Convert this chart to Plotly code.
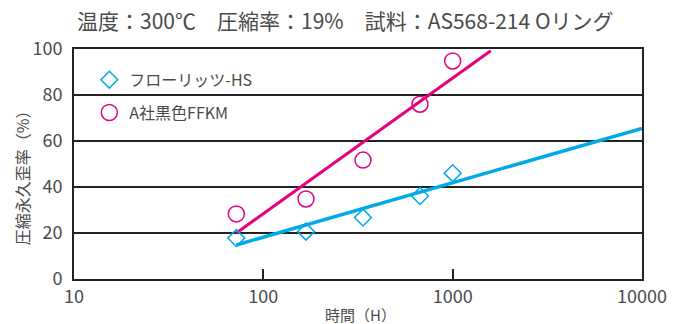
import plotly.graph_objects as go

# data
hours = [72, 168, 336, 672, 1000]
flor_hs = [17.8, 20.6, 26.7, 36.1, 46.0]
ffkm = [28.3, 34.8, 51.7, 76.0, 94.8]
flor_fit_x = [72, 10000]
flor_fit_y = [14.8, 65.5]
ffkm_fit_x = [72, 1590]
ffkm_fit_y = [20.0, 99.2]
x_ticks = [10, 100, 1000, 10000]
x_tick_text = ["10", "100", "1000", "10000"]
y_ticks = [0, 20, 40, 60, 80, 100]
series_names = ["フローリッツ-HS", "A社黒色FFKM"]
x_title = "時間（H）"
y_title = "圧縮永久歪率（%）"

CYAN = "#00a9e8"
MAGENTA = "#e4007f"
TXT = "#4a4a4a"
FONT = "Noto Sans CJK JP"

fig = go.Figure()
fig.add_trace(go.Scatter(x=flor_fit_x, y=flor_fit_y, mode="lines",
                         line=dict(color=CYAN, width=3.5), showlegend=False, hoverinfo="skip"))
fig.add_trace(go.Scatter(x=ffkm_fit_x, y=ffkm_fit_y, mode="lines",
                         line=dict(color=MAGENTA, width=3), showlegend=False, hoverinfo="skip"))
fig.add_trace(go.Scatter(x=hours, y=flor_hs, mode="markers", name=series_names[0], legendgroup="a",
                         marker=dict(symbol="diamond-open", size=13, color=CYAN,
                                     line=dict(color=CYAN, width=1.5))))
fig.add_trace(go.Scatter(x=hours, y=ffkm, mode="markers", name=series_names[1], legendgroup="b",
                         marker=dict(symbol="circle-open", size=16, color=MAGENTA,
                                     line=dict(color=MAGENTA, width=1.5))))

fig.update_layout(
    width=677, height=324,
    margin=dict(l=74, r=35, t=49, b=45, autoexpand=False),
    paper_bgcolor="white", plot_bgcolor="white",
    font=dict(family=FONT, color=TXT, size=17),
    title=dict(text="温度：300℃　圧縮率：19%　試料：AS568-214 Oリング",
               x=0.51, xanchor="center", y=1 - 22 / 324, yanchor="middle", yref="container",
               font=dict(size=21, color=TXT, family=FONT)),
    legend=dict(x=0.027, y=0.94, xanchor="left", yanchor="top", bgcolor="rgba(0,0,0,0)",
                font=dict(size=16, color=TXT, family=FONT), itemwidth=30, tracegroupgap=9),
    showlegend=True,
    annotations=[
        dict(text=x_title, xref="paper", yref="paper", x=0.505, y=0, xanchor="center",
             yanchor="middle", yshift=-35, showarrow=False, font=dict(size=15, color=TXT)),
        dict(text=y_title, xref="paper", yref="paper", x=0, y=0.455, xanchor="center",
             yanchor="middle", xshift=-52, textangle=-90, showarrow=False,
             font=dict(size=16, color=TXT)),
    ],
)
fig.update_xaxes(type="log", range=[1, 4], tickvals=x_ticks, ticktext=x_tick_text,
                 ticks="inside", ticklen=10, tickwidth=1.5, tickcolor="#222",
                 showgrid=False, showline=True, linecolor="#222", linewidth=2, mirror=True,
                 tickfont=dict(size=18, color=TXT), zeroline=False, automargin=False)
fig.update_yaxes(range=[0, 100], tickvals=y_ticks, showgrid=True, gridcolor="#222", gridwidth=1.5,
                 showline=True, linecolor="#222", linewidth=2, mirror=True, ticks="",
                 tickfont=dict(size=18, color=TXT), zeroline=False, ticklabelstandoff=6,
                 automargin=False)

fig.write_html("out.html")
